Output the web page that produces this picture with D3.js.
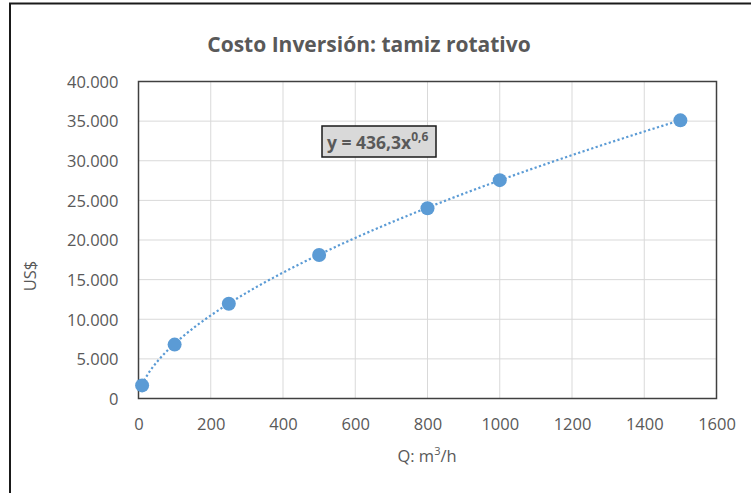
<!DOCTYPE html>
<html>
<head>
<meta charset="utf-8">
<script src="https://cdn.jsdelivr.net/npm/d3@7"></script>
<style>
  html, body { margin: 0; padding: 0; background: #fff; }
  svg { display: block; }
  text { font-family: "Open Sans", "Liberation Sans", sans-serif; }
</style>
</head>
<body>
<svg id="chart" width="751" height="493"></svg>
<script>
// Caudal Q (m3/h) y costo de inversión (US$)
const caudal = [10, 100, 250, 500, 800, 1000, 1500];
const costo = [1650, 6800, 11950, 18100, 24000, 27550, 35100];

// Línea de tendencia potencial y = a·x^b
const trendA = 436.3;
const trendB = 0.6;
const trendLabel = "y = 436,3x";
const trendExpLabel = "0,6";

const xTicks = [0, 200, 400, 600, 800, 1000, 1200, 1400, 1600];
const yTicks = [0, 5000, 10000, 15000, 20000, 25000, 30000, 35000, 40000];

const titulo = "Costo Inversión: tamiz rotativo";
const ejeX = "Q: m";
const ejeY = "US$";

const svg = d3.select("#chart");
const plot = { left: 138.5, right: 716.5, top: 81.5, bottom: 398.5 };

const x = d3.scaleLinear().domain([0, 1600]).range([plot.left, plot.right]);
const y = d3.scaleLinear().domain([0, 40000]).range([plot.bottom, plot.top]);

const fmt = d3.formatLocale({ decimal: ",", thousands: ".", grouping: [3], currency: ["", ""] }).format(",d");

// marco exterior
svg.append("rect")
  .attr("x", 10).attr("y", 3.5).attr("width", 760).attr("height", 520)
  .attr("fill", "none").attr("stroke", "#1a1a1a").attr("stroke-width", 2);

// título
svg.append("text")
  .attr("x", 369).attr("y", 52)
  .attr("text-anchor", "middle")
  .attr("font-size", 21).attr("font-weight", 700)
  .attr("fill", "#595959")
  .text(titulo);

// cuadrícula
const grid = svg.append("g");
grid.selectAll("line.gx").data(xTicks).join("line")
  .attr("x1", d => x(d)).attr("x2", d => x(d))
  .attr("y1", plot.top).attr("y2", plot.bottom)
  .attr("stroke", "#d9d9d9").attr("stroke-width", 1);
grid.selectAll("line.gy").data(yTicks).join("line")
  .attr("x1", plot.left).attr("x2", plot.right)
  .attr("y1", d => y(d)).attr("y2", d => y(d))
  .attr("stroke", "#d9d9d9").attr("stroke-width", 1);

// borde del área de trazado
svg.append("rect")
  .attr("x", plot.left).attr("y", plot.top)
  .attr("width", plot.right - plot.left).attr("height", plot.bottom - plot.top)
  .attr("fill", "none").attr("stroke", "#404040").attr("stroke-width", 1.5);

// ejes
const xAxis = svg.append("g")
  .attr("transform", `translate(0,${plot.bottom})`)
  .call(d3.axisBottom(x).tickValues(xTicks).tickSize(0).tickPadding(20).tickFormat(d3.format("d")));
const yAxis = svg.append("g")
  .attr("transform", `translate(${plot.left},0)`)
  .call(d3.axisLeft(y).tickValues(yTicks).tickSize(0).tickPadding(20).tickFormat(fmt));
[xAxis, yAxis].forEach(g => {
  g.select(".domain").remove();
  g.selectAll("text")
    .attr("font-family", "'Open Sans', 'Liberation Sans', sans-serif")
    .attr("font-size", 16.5).attr("fill", "#595959");
});
yAxis.selectAll("text").attr("dy", "0.35em");
xAxis.selectAll("text").attr("dy", "0.71em");

// títulos de ejes
const tx = svg.append("text")
  .attr("x", 427).attr("y", 462)
  .attr("text-anchor", "middle")
  .attr("font-size", 16.5).attr("fill", "#595959");
tx.append("tspan").text(ejeX);
tx.append("tspan").attr("font-size", 11).attr("dy", -7).text("3");
tx.append("tspan").attr("dy", 7).text("/h");

svg.append("text")
  .attr("transform", `translate(36,${(plot.top + plot.bottom) / 2 + 36}) rotate(-90)`)
  .attr("text-anchor", "middle")
  .attr("font-size", 16.5).attr("fill", "#595959")
  .text(ejeY);

// línea de tendencia
const xs = d3.range(caudal[0], caudal[caudal.length - 1] + 1, 5);
const line = d3.line().x(d => x(d)).y(d => y(trendA * Math.pow(d, trendB)));
svg.append("path")
  .datum(xs)
  .attr("d", line)
  .attr("fill", "none")
  .attr("stroke", "#5b9bd5")
  .attr("stroke-width", 2.2)
  .attr("stroke-dasharray", "2.2,2.4");

// puntos
svg.selectAll("circle.pt")
  .data(caudal.map((q, i) => [q, costo[i]]))
  .join("circle")
  .attr("cx", d => x(d[0])).attr("cy", d => y(d[1]))
  .attr("r", 7)
  .attr("fill", "#5b9bd5");

// etiqueta de la ecuación
const lab = svg.append("g");
lab.append("rect")
  .attr("x", 322).attr("y", 126).attr("width", 114).attr("height", 31)
  .attr("fill", "#d9d9d9").attr("stroke", "#1a1a1a").attr("stroke-width", 1.5);
const et = lab.append("text")
  .attr("x", 327).attr("y", 149)
  .attr("font-size", 17.5).attr("font-weight", 700).attr("fill", "#595959");
et.append("tspan").text(trendLabel);
et.append("tspan").attr("font-size", 12).attr("dy", -8).text(trendExpLabel);
</script>
</body>
</html>
